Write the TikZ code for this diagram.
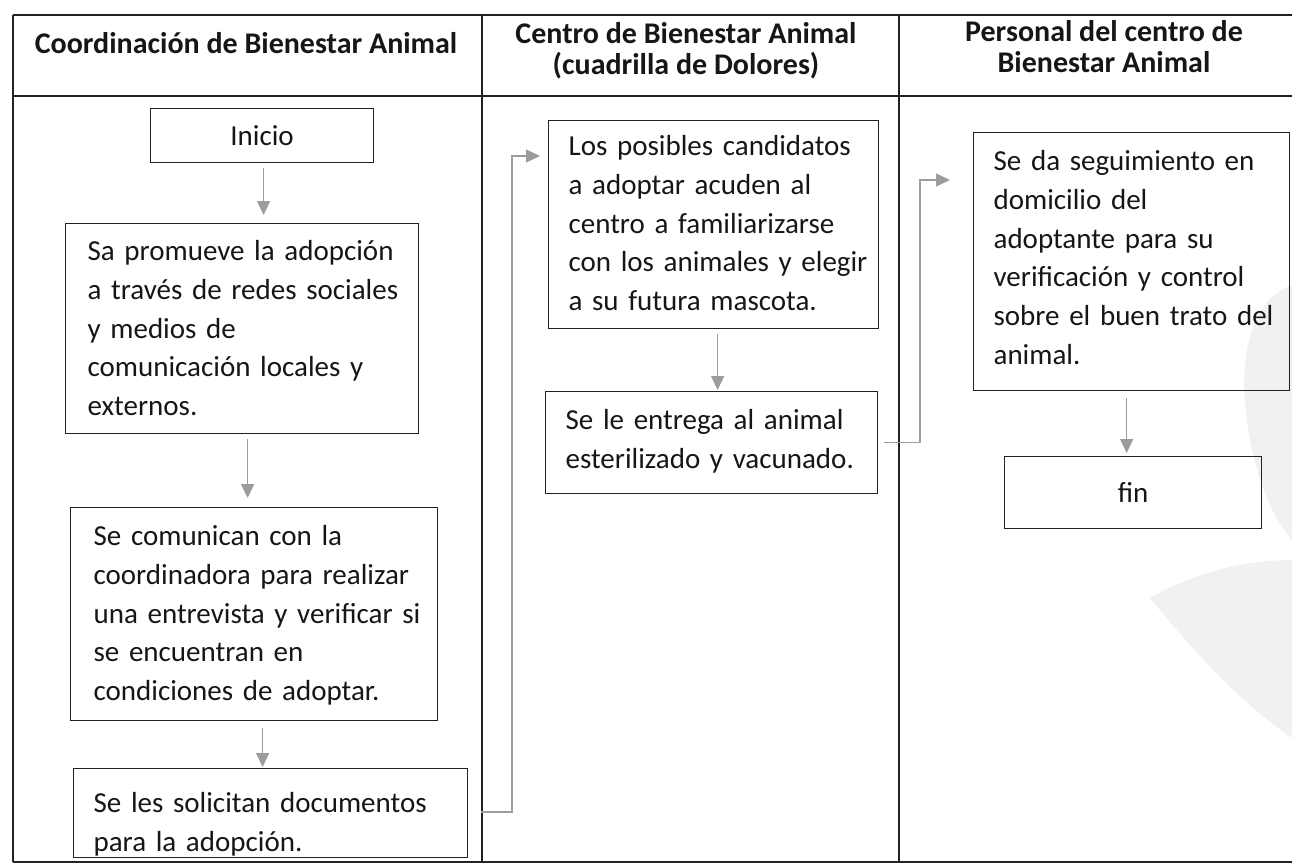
\documentclass[tikz,border=0pt]{standalone}
\usepackage{fontspec}
\setmainfont{Carlito}
\usetikzlibrary{arrows.meta,calc}
\definecolor{ln}{HTML}{222222}
\definecolor{arr}{HTML}{9C9C9C}
\definecolor{txt}{HTML}{161616}
\definecolor{wm}{HTML}{F1F1F1}
\begin{document}
\begin{tikzpicture}[x=1pt,y=-1pt,
  lane/.style={draw=ln, line width=1.4pt},
  stepbox/.style={draw=ln, line width=1.2pt, anchor=north west, inner ysep=0pt,
    align=left, text=txt, font=\fontsize{29}{38.7}\selectfont},
  termbox/.style={draw=ln, line width=1.2pt, anchor=north west, inner sep=0pt,
    text=txt, font=\fontsize{29}{35}\selectfont},
  head/.style={font=\bfseries\fontsize{30}{31}\selectfont, align=center, text=txt},
  conn/.style={draw=arr, line width=1.5pt, -{Triangle[length=14pt,width=13pt]}},
]
\clip (0,0) rectangle (1292,864);
\fill[white] (0,0) rectangle (1292,864);
% faint watermark
\fill[wm] (1150,598) .. controls (1200,660) and (1250,710) .. (1292,738)
  -- (1292,560) .. controls (1240,560) and (1190,575) .. (1150,598) -- cycle;
\fill[wm] (1292,285) .. controls (1250,300) and (1235,360) .. (1250,440)
  .. controls (1260,490) and (1275,520) .. (1292,540) -- cycle;

% table
\draw[lane] (13,15) -- (1300,15);
\draw[lane] (13,96) -- (1300,96);
\draw[lane] (13,862) -- (1300,862);
\draw[lane] (13,15) -- (13,862);
\draw[lane] (482,15) -- (482,862);
\draw[lane] (899,15) -- (899,862);

% headers
\node[head] (h1) at (246,43) {Coordinación de Bienestar Animal};
\node[head] (h2) at (686,51) {Centro de Bienestar Animal\\(cuadrilla de Dolores)};
\node[head] (h3) at (1104,47) {Personal del centro de\\Bienestar Animal};

% lane 1
\node[termbox, minimum width=223pt, minimum height=54pt] (ini) at (150,108) {Inicio};
\node[stepbox, inner xsep=22pt, text width=309pt, text height=37pt, text depth=173pt] (pro) at (65,223)
  {\mbox{Sa promueve la adopción}\\\mbox{a través de redes sociales}\\\mbox{y medios de}\\\mbox{comunicación locales y}\\\mbox{externos.}};
\node[stepbox, inner xsep=23pt, text width=321pt, text height=38pt, text depth=175pt] (com) at (70,507)
  {\mbox{Se comunican con la}\\\mbox{coordinadora para realizar}\\\mbox{una entrevista y verificar si}\\\mbox{se encuentran en}\\\mbox{condiciones de adoptar.}};
\node[stepbox, inner xsep=20pt, text width=354pt, text height=44pt, text depth=45pt] (sol) at (73,768)
  {\mbox{Se les solicitan documentos}\\\mbox{para la adopción.}};

% lane 2
\node[stepbox, inner xsep=20pt, text width=290pt, text height=35pt, text depth=173pt] (pos) at (548,120)
  {\mbox{Los posibles candidatos}\\\mbox{a adoptar acuden al}\\\mbox{centro a familiarizarse}\\\mbox{con los animales y elegir}\\\mbox{a su futura mascota.}};
\node[stepbox, inner xsep=20pt, text width=292pt, text height=38pt, text depth=64pt] (ent) at (545,391)
  {\mbox{Se le entrega al animal}\\\mbox{esterilizado y vacunado.}};

% lane 3
\node[stepbox, inner xsep=20pt, text width=276pt, text height=38pt, text depth=220pt] (seg) at (973,132)
  {\mbox{Se da seguimiento en}\\\mbox{domicilio del}\\\mbox{adoptante para su}\\\mbox{verificación y control}\\\mbox{sobre el buen trato del}\\\mbox{animal.}};
\node[termbox, minimum width=257pt, minimum height=72pt] (fin) at (1004,456) {fin};

% connectors
\draw[conn, shorten <=5pt, shorten >=8pt] ([xshift=1.5pt]ini.south) -- ([xshift=1.5pt]ini.south |- pro.north);
\draw[conn, shorten <=5pt, shorten >=9pt] ([xshift=5.5pt]pro.south) -- ([xshift=5.5pt]pro.south |- com.north);
\draw[conn, shorten <=7pt, shorten >=1pt] ([xshift=8.5pt]com.south) -- ([xshift=8.5pt]com.south |- sol.north);
\draw[conn, shorten <=5pt, shorten >=1pt] ([xshift=4pt]pos.south) -- ([xshift=4pt]pos.south |- ent.north);
\draw[conn, shorten <=7pt, shorten >=3pt] ([xshift=-5pt]seg.south) -- ([xshift=-5pt]seg.south |- fin.north);
\draw[conn, shorten <=13pt] ([yshift=1pt]sol.east) -- ++(44,0) |- ($(pos.north west)+(-8,36)$);
\draw[conn, shorten <=6pt] (ent.east) -- ++(42,0) |- ($(seg.north west)+(-23,48)$);
\end{tikzpicture}
\end{document}
